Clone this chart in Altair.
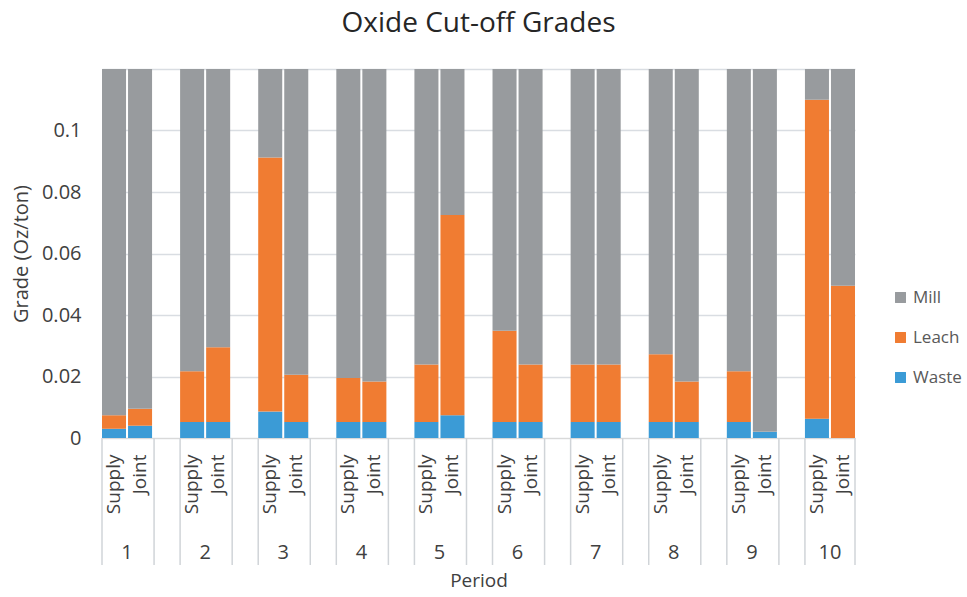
import altair as alt
import pandas as pd

periods = [1, 2, 3, 4, 5, 6, 7, 8, 9, 10]
types = ["Supply", "Joint"]
components = ["Mill", "Leach", "Waste"]
colors = ["#989b9e", "#f07c32", "#3b9bd6"]

# segment heights, order: 1S,1J,2S,2J,...,10S,10J
waste = [0.0030, 0.0040, 0.0052, 0.0052, 0.0086, 0.0052, 0.0052, 0.0052, 0.0052, 0.0074,
         0.0052, 0.0052, 0.0052, 0.0052, 0.0052, 0.0052, 0.0052, 0.0020, 0.0063, 0.0000]
leach = [0.0044, 0.0055, 0.0165, 0.0243, 0.0826, 0.0154, 0.0143, 0.0132, 0.0187, 0.0651,
         0.0297, 0.0187, 0.0187, 0.0187, 0.0220, 0.0132, 0.0165, 0.0000, 0.1037, 0.0495]
mill = [0.1126, 0.1105, 0.0983, 0.0905, 0.0288, 0.0994, 0.1005, 0.1016, 0.0961, 0.0475,
        0.0851, 0.0961, 0.0961, 0.0961, 0.0928, 0.1016, 0.0983, 0.1180, 0.0100, 0.0705]

W, H = 753, 369

keys = []
for p in periods:
    keys += [f"{p}|Supply", f"{p}|Joint"]
    if p != periods[-1]:
        keys.append(f"gap{p}")

rows = []
i = 0
for p in periods:
    for t in types:
        k = f"{p}|{t}"
        rows.append({"key": k, "comp": "Waste", "ord": 0, "val": waste[i]})
        rows.append({"key": k, "comp": "Leach", "ord": 1, "val": leach[i]})
        rows.append({"key": k, "comp": "Mill", "ord": 2, "val": mill[i]})
        i += 1
df = pd.DataFrame(rows)

sep_keys = []
for p in periods:
    sep_keys.append(f"{p}|Supply")
    if p != periods[-1]:
        sep_keys.append(f"gap{p}")
sep_df = pd.DataFrame({"key": sep_keys})
lab_df = pd.DataFrame({"key": [f"{p}|Joint" for p in periods], "txt": [str(p) for p in periods]})

FONT = "Open Sans"
TXT = "#404040"
xscale = alt.Scale(domain=keys, paddingInner=0.077, paddingOuter=0)

bars = alt.Chart(df).mark_bar().encode(
    x=alt.X("key:N", scale=xscale, sort=keys,
            axis=alt.Axis(title="Period", labelAngle=270, labelAlign="right", labelBaseline="middle",
                          labelPadding=16, labelFontSize=19, labelColor=TXT, labelFont=FONT,
                          labelExpr="indexof(datum.value, 'gap') >= 0 ? '' : split(datum.value, '|')[1]",
                          ticks=False, domainColor="#d9d9d9", grid=False,
                          titleFont=FONT, titleFontSize=19, titleFontWeight="normal", titleColor=TXT,
                          titleY=142, titleBaseline="middle")),
    y=alt.Y("val:Q", stack="zero", scale=alt.Scale(domain=[0, 0.12], nice=False),
            axis=alt.Axis(title="Grade (Oz/ton)", values=[0, 0.02, 0.04, 0.06, 0.08, 0.1, 0.12],
                          format="~g", labelExpr="datum.value > 0.119 ? '' : datum.label",
                          labelFontSize=20, labelColor=TXT, labelFont=FONT, labelPadding=21,
                          ticks=False, domain=False, gridColor="#d9dde2", gridWidth=1.5,
                          titleFont=FONT, titleFontSize=20, titleFontWeight="normal", titleColor=TXT,
                          titlePadding=10)),
    color=alt.Color("comp:N", scale=alt.Scale(domain=components, range=colors),
                    legend=alt.Legend(orient="none", legendX=790, legendY=220, title=None,
                                      symbolType="square", symbolSize=120, symbolStrokeWidth=0,
                                      labelFontSize=17, labelColor="#595959", labelFont=FONT,
                                      rowPadding=22, labelOffset=4)),
    order=alt.Order("ord:Q", sort="ascending"),
)

seps = alt.Chart(sep_df).mark_rule(color="#d0d4d8", strokeWidth=1.5).encode(
    x=alt.X("key:N", scale=xscale, bandPosition=0),
    y=alt.value(H), y2=alt.value(H + 127),
)
sep_end = alt.Chart(pd.DataFrame({"k": [0]})).mark_rule(color="#d0d4d8", strokeWidth=1.5).encode(
    x=alt.value(W), y=alt.value(H), y2=alt.value(H + 127),
)
labs = alt.Chart(lab_df).mark_text(fontSize=20, font=FONT, color=TXT, baseline="middle", dx=-1).encode(
    x=alt.X("key:N", scale=xscale, bandPosition=0),
    y=alt.value(H + 115),
    text="txt:N",
)

chart = alt.layer(bars, seps, sep_end, labs).properties(
    width=W, height=H,
    title=alt.TitleParams("Oxide Cut-off Grades", fontSize=28, font=FONT, fontWeight="normal",
                          color="#262626", anchor="middle", offset=31),
    autosize=alt.AutoSizeParams(type="none"),
    padding={"left": 102, "top": 69, "right": 112, "bottom": 159},
).configure_view(stroke=None)

chart.save("out.html", embed_options={"renderer": "svg", "actions": False})
